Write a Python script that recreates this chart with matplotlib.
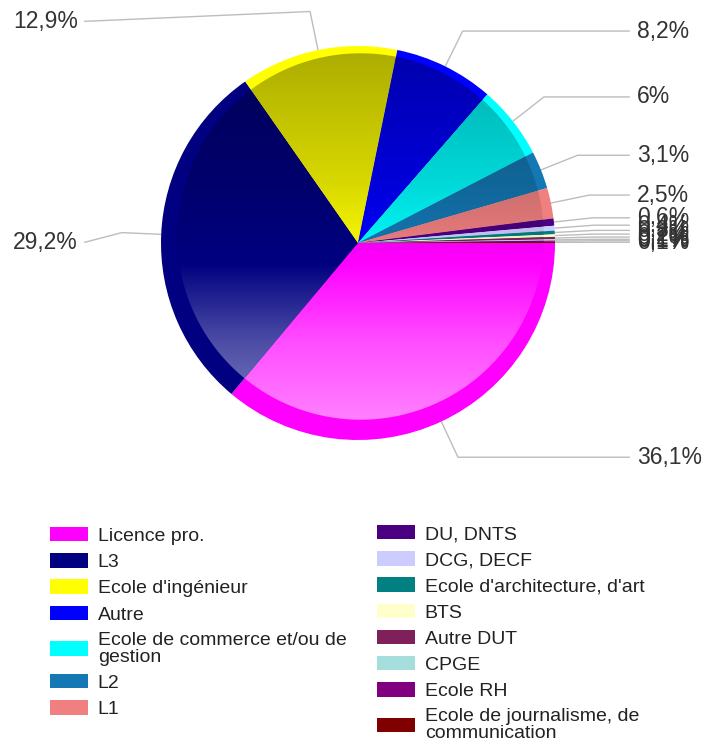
import numpy as np
import matplotlib.pyplot as plt
from matplotlib.patches import Patch, Polygon
from matplotlib.colors import to_rgb

plt.rcParams['font.family'] = ['Liberation Sans', 'DejaVu Sans']

# data
categories = ["Licence pro.", "L3", "Ecole d'ingénieur", "Autre",
              "Ecole de commerce et/ou de\ngestion", "L2", "L1",
              "DU, DNTS", "DCG, DECF", "Ecole d'architecture, d'art", "BTS",
              "Autre DUT", "CPGE", "Ecole RH",
              "Ecole de journalisme, de\ncommunication"]
values = [36.1, 29.2, 12.9, 8.2, 6.0, 3.1, 2.5,
          0.6, 0.4, 0.3, 0.2, 0.2, 0.1, 0.1, 0.1]
colors = ["#FF00FF", "#000080", "#FFFF00", "#0000FF", "#00FFFF", "#1478B4",
          "#F08080", "#4B0082", "#CCCCFF", "#008080", "#FFFFCC", "#80205A",
          "#A6DDDD", "#800080", "#800000"]
n_left_legend = 7

fig = plt.figure(figsize=(7.05, 7.46), dpi=100)
# pie axes: radius of 197 px, centre at (358, 243) px from top-left
ax = fig.add_axes([0, 256 / 746, 1, 490 / 746])

wedges, _ = ax.pie(values, colors=colors, startangle=0, counterclock=False,
                   radius=1, wedgeprops=dict(linewidth=0, edgecolor='none'))
ax.axis('off')

# inner shaded part (slightly raised disc, darker top, lighter bottom)
shift = np.array([0.013, 0.033])
r_in = 0.93
ny = 400
yy = np.linspace(1, -1, ny)
stops_y = [-1.0, -0.5, -0.1, 0.3, 1.0]
stops_l = [0.55, 0.30, 0.0, -0.15, -0.33]
shade = np.interp(yy, stops_y, stops_l)[:, None, None]

for w, c in zip(wedges, colors):
    base = np.array(to_rgb(c))[None, None, :]
    img = np.where(shade > 0, base + shade * (1 - base), base * (1 + shade))
    img = np.clip(img, 0, 1)
    phi = np.radians(np.linspace(w.theta1, w.theta2, 120))
    u = np.column_stack([np.cos(phi), np.sin(phi)])
    uc = u @ shift
    t = uc + np.sqrt(uc ** 2 - shift @ shift + r_in ** 2)
    pts = np.vstack([[0, 0], u * t[:, None]])
    clip = Polygon(pts, closed=True, facecolor='none', edgecolor='none')
    ax.add_patch(clip)
    im = ax.imshow(img, extent=[-1, 1, -1, 1], interpolation='bilinear',
                   aspect='auto', zorder=2)
    im.set_clip_path(clip)

ax.set_xlim(-358 / 197, 347 / 197)
ax.set_ylim(-247 / 197, 243 / 197)
ax.set_aspect('equal')

# value labels with leader lines
line_kw = dict(color='#bdbdbd', lw=1, zorder=0.5, solid_capstyle='butt')
for w, v in zip(wedges, values):
    mid = np.radians((w.theta1 + w.theta2) / 2)
    cx, cy = np.cos(mid), np.sin(mid)
    ex, ey = 1.2 * cx, 1.2 * cy
    txt = f"{v:g}%".replace('.', ',')
    if cx >= 0:
        ax.plot([cx, ex, 1.38], [cy, ey, ey], **line_kw)
        ax.text(1.416, ey, txt, ha='left', va='center', fontsize=16.5,
                color='#333333')
    else:
        ty = ey - 0.05
        ax.plot([cx, ex, -1.39], [cy, ey, ty], **line_kw)
        ax.text(-1.421, ty, txt, ha='right', va='center', fontsize=16.5,
                color='#333333')

# legends (two columns)
handles = [Patch(facecolor=c, edgecolor='none') for c in colors]
leg_kw = dict(loc='upper left', frameon=False, fontsize=14,
              handlelength=1.96, handleheight=0.77, handletextpad=0.5,
              labelspacing=0.42, borderpad=0, borderaxespad=0,
              labelcolor='#222222')
leg1 = fig.legend(handles[:n_left_legend], categories[:n_left_legend],
                  bbox_to_anchor=(50 / 705, 1 - 527 / 746), **leg_kw)
leg2 = fig.legend(handles[n_left_legend:], categories[n_left_legend:],
                  bbox_to_anchor=(377 / 705, 1 - 525 / 746), **leg_kw)
for leg in (leg1, leg2):
    for t in leg.get_texts():
        t.set_linespacing(1.0)

fig.savefig('out.png', dpi=100)
